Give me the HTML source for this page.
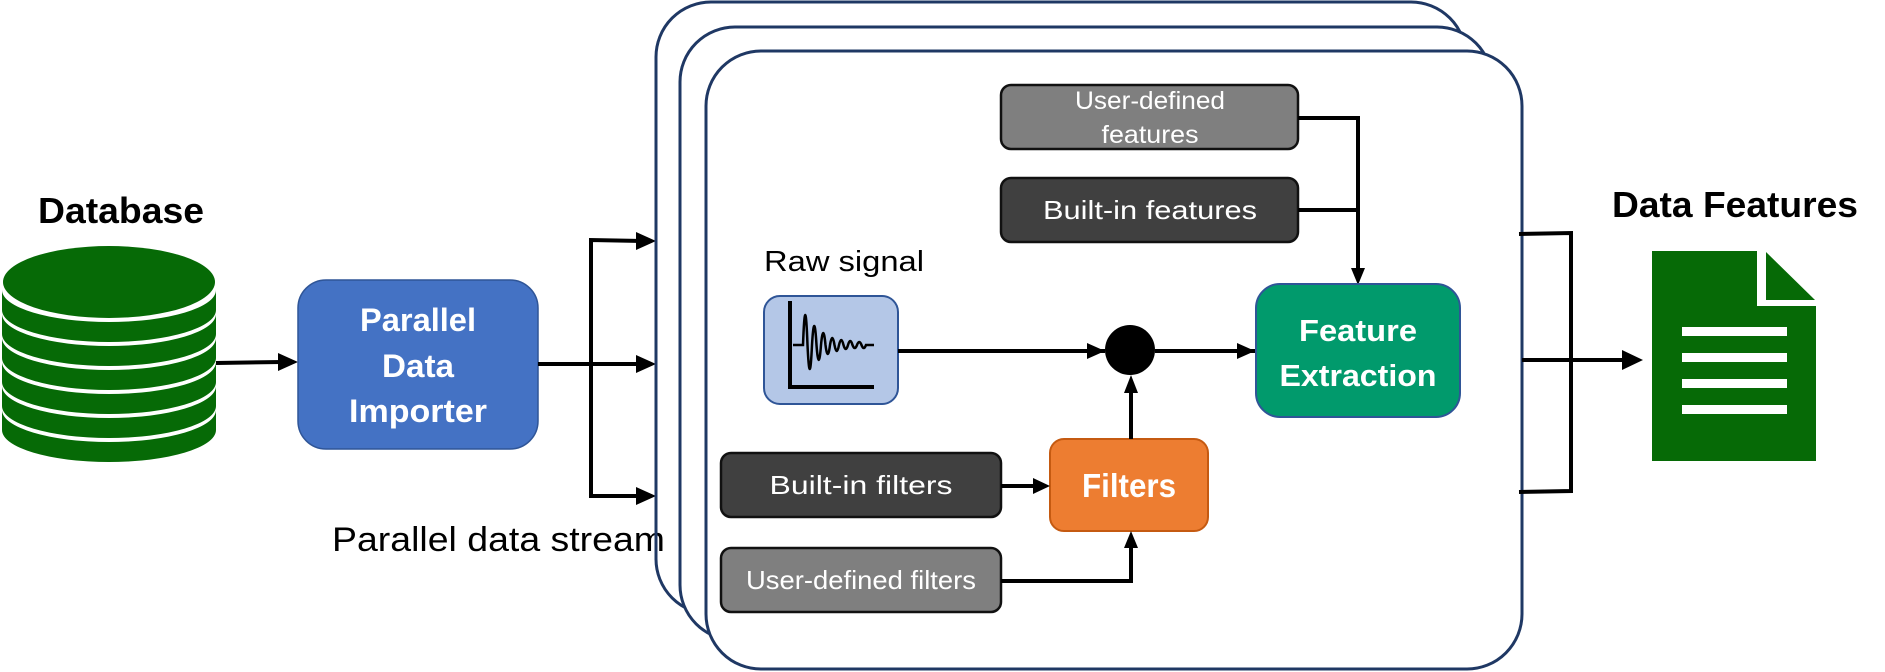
<!DOCTYPE html>
<html><head><meta charset="utf-8"><style>
html,body{margin:0;padding:0;background:#fff;}
svg{display:block;}
text{font-family:"Liberation Sans",sans-serif;}
</style></head><body>
<svg width="1885" height="672" viewBox="0 0 1885 672" xmlns="http://www.w3.org/2000/svg">

<!-- Database -->
<text x="121" y="223" font-size="36" font-weight="bold" text-anchor="middle" textLength="166" lengthAdjust="spacingAndGlyphs">Database</text>
<g fill="#066A06">
<path d="M2,410 L2,430 A107,32 0 0 0 216,430 L216,410 A107,32 0 0 1 2,410 z"/>
<path d="M2,386 L2,406 A107,32 0 0 0 216,406 L216,386 A107,32 0 0 1 2,386 z"/>
<path d="M2,362 L2,382 A107,32 0 0 0 216,382 L216,362 A107,32 0 0 1 2,362 z"/>
<path d="M2,338 L2,358 A107,32 0 0 0 216,358 L216,338 A107,32 0 0 1 2,338 z"/>
<path d="M2,314 L2,334 A107,32 0 0 0 216,334 L216,314 A107,32 0 0 1 2,314 z"/>
<path d="M2,290 L2,310 A107,32 0 0 0 216,310 L216,290 A107,32 0 0 1 2,290 z"/>
<ellipse cx="109" cy="282" rx="106" ry="36"/>
</g>

<!-- arrow db -> PDI -->
<line x1="216" y1="363" x2="282" y2="362" stroke="#000" stroke-width="4"/>
<path d="M278,353 L298,362 L278,371 z"/>

<!-- PDI -->
<rect x="298" y="280" width="240" height="169" rx="28" fill="#4472C4" stroke="#2F5597" stroke-width="1.5"/>
<g fill="#fff" font-weight="bold" font-size="32" text-anchor="middle">
<text x="418" y="331" textLength="116" lengthAdjust="spacingAndGlyphs">Parallel</text>
<text x="418" y="377" textLength="72" lengthAdjust="spacingAndGlyphs">Data</text>
<text x="418" y="422" textLength="138" lengthAdjust="spacingAndGlyphs">Importer</text>
</g>

<!-- bus -->
<g stroke="#000" stroke-width="4" fill="none">
<line x1="538" y1="364" x2="640" y2="364"/>
<polyline points="640,241 591,240 591,496 640,496"/>
</g>
<path d="M636,355 L656,364 L636,373 z"/>
<path d="M636,232 L656,241 L636,250 z"/>
<path d="M636,487 L656,496 L636,505 z"/>

<!-- frames -->
<g fill="#fff" stroke="#1F3864" stroke-width="3">
<rect x="656" y="2" width="810" height="612" rx="55"/>
<rect x="680" y="27" width="812" height="613" rx="55"/>
<rect x="706" y="51" width="816" height="618" rx="55"/>
</g>

<text x="332" y="551" font-size="34" textLength="333" lengthAdjust="spacingAndGlyphs">Parallel data stream</text>
<line x1="656" y1="500" x2="656" y2="560" stroke="#1F3864" stroke-width="3"/>

<!-- feature boxes -->
<rect x="1001" y="85" width="297" height="64" rx="10" fill="#7F7F7F" stroke="#111" stroke-width="2.5"/>
<text x="1150" y="109" font-size="25" fill="#fff" text-anchor="middle" textLength="150" lengthAdjust="spacingAndGlyphs">User-defined</text>
<text x="1150" y="143" font-size="25" fill="#fff" text-anchor="middle" textLength="97" lengthAdjust="spacingAndGlyphs">features</text>
<rect x="1001" y="178" width="297" height="64" rx="10" fill="#404040" stroke="#111" stroke-width="2.5"/>
<text x="1150" y="219" font-size="26" fill="#fff" text-anchor="middle" textLength="214" lengthAdjust="spacingAndGlyphs">Built-in features</text>

<g stroke="#000" stroke-width="4" fill="none">
<polyline points="1298,118 1358,118 1358,270"/>
<line x1="1298" y1="210" x2="1358" y2="210"/>
</g>
<path d="M1351,268 L1358,285 L1365,268 z"/>

<!-- raw signal -->
<text x="764" y="271" font-size="29" textLength="160" lengthAdjust="spacingAndGlyphs">Raw signal</text>
<rect x="764" y="296" width="134" height="108" rx="16" fill="#B4C7E7" stroke="#2F5597" stroke-width="2"/>
<polyline points="790,301 790,387 874,387" fill="none" stroke="#000" stroke-width="4"/>
<path d="M793,345 L803,345 Q805.25,285 807.5,345 Q809.75,393 812,345 Q814.25,307 816.5,345 Q818.75,375 821,345 Q823.25,321 825.5,345 Q827.75,363 830,345 Q832.25,331 834.5,345 Q836.75,357 839,345 Q841.25,335 843.5,345 Q845.75,353 848,345 Q850.25,337 852.5,345 Q854.75,351 857,345 Q859.25,339 861.5,345 Q863.75,351 866,345 L874,345" fill="none" stroke="#000" stroke-width="2.5"/>

<!-- line to circle -->
<line x1="898" y1="351" x2="1105" y2="351" stroke="#000" stroke-width="4"/>
<path d="M1087,343 L1105,351 L1087,359 z"/>
<circle cx="1130" cy="350" r="25" fill="#000"/>
<line x1="1155" y1="351" x2="1255" y2="351" stroke="#000" stroke-width="4"/>
<path d="M1237,343 L1255,351 L1237,359 z"/>

<!-- FE -->
<rect x="1256" y="284" width="204" height="133" rx="24" fill="#019A6C" stroke="#2F5597" stroke-width="2"/>
<text x="1358" y="341" font-size="31" font-weight="bold" fill="#fff" text-anchor="middle" textLength="118" lengthAdjust="spacingAndGlyphs">Feature</text>
<text x="1358" y="386" font-size="31" font-weight="bold" fill="#fff" text-anchor="middle" textLength="157" lengthAdjust="spacingAndGlyphs">Extraction</text>

<!-- Filters -->
<rect x="1050" y="439" width="158" height="92" rx="14" fill="#ED7D31" stroke="#C55A11" stroke-width="2"/>
<text x="1129" y="497" font-size="33" font-weight="bold" fill="#fff" text-anchor="middle" textLength="94" lengthAdjust="spacingAndGlyphs">Filters</text>
<line x1="1131" y1="439" x2="1131" y2="390" stroke="#000" stroke-width="4"/>
<path d="M1124,393 L1131,375 L1138,393 z"/>

<rect x="721" y="453" width="280" height="64" rx="10" fill="#404040" stroke="#111" stroke-width="2.5"/>
<text x="861" y="494" font-size="26" fill="#fff" text-anchor="middle" textLength="183" lengthAdjust="spacingAndGlyphs">Built-in filters</text>
<line x1="1001" y1="486" x2="1035" y2="486" stroke="#000" stroke-width="4"/>
<path d="M1033,478 L1050,486 L1033,494 z"/>

<rect x="721" y="548" width="280" height="64" rx="10" fill="#7F7F7F" stroke="#111" stroke-width="2.5"/>
<text x="861" y="589" font-size="26" fill="#fff" text-anchor="middle" textLength="230" lengthAdjust="spacingAndGlyphs">User-defined filters</text>
<polyline points="1001,581 1131,581 1131,546" fill="none" stroke="#000" stroke-width="4"/>
<path d="M1124,548 L1131,531 L1138,548 z"/>

<!-- right bracket -->
<g stroke="#000" stroke-width="4" fill="none">
<polyline points="1519,234 1571,233 1571,491 1519,492"/>
<line x1="1522" y1="360" x2="1625" y2="360"/>
</g>
<path d="M1622,350 L1643,360 L1622,370 z"/>

<text x="1735" y="217" font-size="36" font-weight="bold" text-anchor="middle" textLength="246" lengthAdjust="spacingAndGlyphs">Data Features</text>

<!-- doc icon -->
<path d="M1652,251 L1757,251 L1757,306 L1816,306 L1816,461 L1652,461 z" fill="#066A06"/>
<path d="M1766,252 L1766,300 L1815,300 z" fill="#066A06"/>
<g fill="#fff">
<rect x="1682" y="327" width="105" height="9"/>
<rect x="1682" y="353" width="105" height="9"/>
<rect x="1682" y="379" width="105" height="9"/>
<rect x="1682" y="405" width="105" height="9"/>
</g>
</svg>
</body></html>
